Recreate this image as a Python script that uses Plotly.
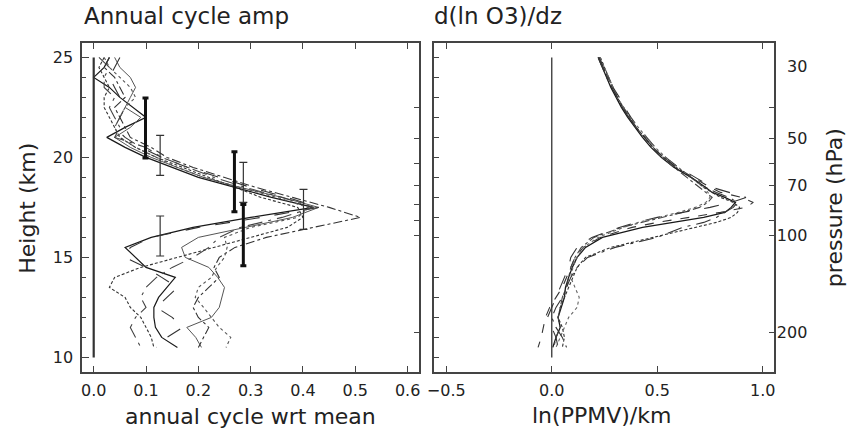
import plotly.graph_objects as go

# ---------------- data ----------------
heights_L = [25.0, 24.5, 24.0, 23.5, 23.0, 22.5, 22.0, 21.5, 21.0, 20.5, 20.0, 19.5, 19.0, 18.5, 18.0,
             17.5, 17.0, 16.5, 16.0, 15.5, 15.0, 14.5, 14.0, 13.5, 13.0, 12.5, 12.0, 11.5, 11.0, 10.5]

amp_solid = [0.03, 0.02, 0.00, 0.03, 0.05, 0.075, 0.10, 0.06, 0.025, 0.06, 0.10, 0.15, 0.20, 0.27, 0.34,
             0.42, 0.30, 0.19, 0.11, 0.06, 0.08, 0.10, 0.156, 0.14, 0.124, 0.115, 0.115, 0.118, 0.13, 0.16]
amp_solid2 = [0.04, 0.05, 0.07, 0.08, 0.07, 0.06, 0.09, 0.07, 0.04, 0.07, 0.11, 0.16, 0.21, 0.28, 0.36,
              0.43, 0.38, 0.29, 0.20, 0.168, 0.175, 0.22, 0.237, 0.25, 0.245, 0.24, 0.225, 0.178, 0.195, 0.206]
amp_dash = [0.02, 0.01, 0.02, 0.03, 0.02, 0.02, 0.03, 0.04, 0.05, 0.08, 0.12, 0.17, 0.22, 0.27, 0.32,
            0.39, 0.40, 0.37, 0.30, 0.23, 0.16, 0.09, 0.04, 0.03, 0.06, 0.07, 0.09, 0.10, 0.11, 0.115]
amp_dashdot = [0.03, 0.02, 0.04, 0.05, 0.06, 0.04, 0.05, 0.06, 0.07, 0.11, 0.14, 0.19, 0.25, 0.31, 0.38,
               0.45, 0.51, 0.42, 0.33, 0.27, 0.24, 0.23, 0.24, 0.22, 0.20, 0.19, 0.20, 0.22, 0.21, 0.20]
amp_longdash = [0.05, 0.04, 0.03, 0.04, 0.05, 0.06, 0.05, 0.04, 0.06, 0.09, 0.13, 0.18, 0.24, 0.30, 0.37,
                0.43, 0.32, 0.20, 0.11, 0.07, 0.06, 0.10, 0.13, 0.16, 0.14, 0.12, 0.15, 0.17, 0.14, 0.12]
amp_dot = [0.02, 0.03, 0.05, 0.07, 0.08, 0.06, 0.05, 0.04, 0.05, 0.08, 0.12, 0.16, 0.21, 0.28, 0.35,
           0.41, 0.39, 0.30, 0.25, 0.255, 0.25, 0.235, 0.225, 0.20, 0.194, 0.21, 0.225, 0.24, 0.262, 0.253]
amp_longdashdot = [0.01, 0.03, 0.02, 0.02, 0.04, 0.03, 0.04, 0.05, 0.04, 0.10, 0.13, 0.18, 0.23, 0.29, 0.36,
                   0.42, 0.36, 0.28, 0.24, 0.22, 0.19, 0.15, 0.12, 0.10, 0.09, 0.10, 0.08, 0.07, 0.08, 0.09]

bold_x = [0.099, 0.269, 0.286]
bold_y = [21.47, 18.78, 16.11]
bold_err = [1.5, 1.5, 1.53]
thin_x = [0.127, 0.286, 0.401, 0.127]
thin_y = [20.1, 18.75, 17.4, 16.07]
thin_err = [1.0, 1.0, 1.0, 1.0]

heights_R = [25.0, 24.5, 24.0, 23.5, 23.0, 22.5, 22.0, 21.5, 21.0, 20.5, 20.0, 19.5, 19.0, 18.5, 18.25,
             18.0, 17.75, 17.5, 17.25, 17.0, 16.75, 16.5, 16.0, 15.5, 15.0, 14.5, 14.0, 13.5, 13.0, 12.5,
             12.0, 11.5, 11.0, 10.5]
grad_solid = [0.22, 0.24, 0.26, 0.28, 0.305, 0.33, 0.36, 0.395, 0.43, 0.47, 0.52, 0.58, 0.66, 0.73, 0.76,
              0.82, 0.87, 0.85, 0.82, 0.72, 0.58, 0.43, 0.24, 0.16, 0.12, 0.097, 0.08, 0.065, 0.06, 0.045,
              0.03, 0.04, 0.02, 0.005]
grad_dash = [0.225, 0.245, 0.265, 0.29, 0.31, 0.335, 0.365, 0.40, 0.44, 0.48, 0.53, 0.59, 0.67, 0.75, 0.80,
             0.90, 0.955, 0.92, 0.80, 0.64, 0.50, 0.38, 0.23, 0.15, 0.11, 0.09, 0.07, 0.05, 0.02, -0.01,
             -0.03, -0.04, -0.05, -0.065]
grad_dot = [0.23, 0.25, 0.27, 0.29, 0.31, 0.34, 0.37, 0.40, 0.44, 0.48, 0.53, 0.59, 0.66, 0.72, 0.76,
            0.80, 0.86, 0.89, 0.88, 0.85, 0.78, 0.68, 0.48, 0.28, 0.16, 0.12, 0.10, 0.08, 0.06, 0.04,
            0.03, 0.05, 0.06, 0.05]
grad_dashdot = [0.22, 0.24, 0.27, 0.29, 0.31, 0.34, 0.37, 0.40, 0.44, 0.48, 0.52, 0.58, 0.64, 0.70, 0.73,
                0.76, 0.74, 0.70, 0.62, 0.52, 0.42, 0.33, 0.20, 0.14, 0.11, 0.09, 0.08, 0.07, 0.05, 0.04,
                0.03, 0.04, 0.02, 0.01]
grad_longdash = [0.225, 0.245, 0.27, 0.29, 0.32, 0.345, 0.375, 0.41, 0.45, 0.49, 0.54, 0.60, 0.68, 0.76, 0.84,
                 0.92, 0.85, 0.75, 0.62, 0.50, 0.40, 0.32, 0.19, 0.12, 0.09, 0.08, 0.06, 0.04, 0.02, 0.0,
                 -0.02, 0.0, 0.02, 0.03]
grad_dotgray = [0.23, 0.25, 0.27, 0.29, 0.31, 0.34, 0.37, 0.41, 0.45, 0.49, 0.54, 0.60, 0.66, 0.72, 0.74,
                0.75, 0.73, 0.68, 0.60, 0.50, 0.41, 0.34, 0.22, 0.15, 0.12, 0.10, 0.09, 0.11, 0.13, 0.12,
                0.08, 0.06, 0.04, 0.02]
grad_longdashdot = [0.22, 0.24, 0.26, 0.285, 0.31, 0.335, 0.365, 0.40, 0.44, 0.48, 0.53, 0.59, 0.66, 0.73, 0.78,
                    0.84, 0.88, 0.86, 0.82, 0.78, 0.72, 0.62, 0.50, 0.30, 0.17, 0.12, 0.09, 0.07, 0.05, 0.02,
                    0.00, 0.02, 0.05, 0.07]

zero_line_x = [0.0, 0.0]
zero_line_y = [10.0, 25.0]

height_major = [10, 15, 20, 25]
height_minor = list(range(10, 26))
pressure_ticks = [40, 50, 60, 70, 80, 90, 100, 200]
pressure_labels = [30, 50, 70, 100, 200]
amp_ticks = [0.0, 0.1, 0.2, 0.3, 0.4, 0.5, 0.6]
grad_ticks = [-0.5, 0.0, 0.5, 1.0]

# ---------------- style ----------------
W, H = 850, 432
FONT = "DejaVu Sans"
TXT = "#222222"
AX = "#444444"
L_frame = (76, 416)
R_frame = (432, 775)
Y_frame = (43, 372)


def px_x(p):
    return p / W


def px_y(p):
    return 1 - p / H


ydom = [px_y(Y_frame[1]), px_y(Y_frame[0])]
h_range = [9.27, 25.72]
p_range = [2.4233, 1.4031]  # log10(hPa), reversed

fig = go.Figure()

left_styles = [
    (amp_solid, "solid", "#1a1a1a", 1.2),
    (amp_solid2, "solid", "#555555", 1.0),
    (amp_dash, "3px,2px", "#333333", 1.1),
    (amp_dashdot, "dashdot", "#333333", 1.1),
    (amp_longdash, "longdash", "#333333", 1.1),
    (amp_dot, "dot", "#555555", 1.1),
    (amp_longdashdot, "longdashdot", "#444444", 1.1),
]
for vals, dash, col, w in left_styles:
    fig.add_trace(go.Scatter(x=vals, y=heights_L, mode="lines", xaxis="x", yaxis="y",
                             line=dict(color=col, width=w, dash=dash), hoverinfo="skip"))

fig.add_trace(go.Scatter(x=zero_line_x, y=zero_line_y, mode="lines", xaxis="x", yaxis="y",
                         line=dict(color="#333333", width=2.2), hoverinfo="skip"))

fig.add_trace(go.Scatter(x=bold_x, y=bold_y, mode="markers", xaxis="x", yaxis="y",
                         marker=dict(size=1, color="rgba(0,0,0,0)"),
                         error_y=dict(type="data", array=bold_err, color="#111111", thickness=3, width=3),
                         hoverinfo="skip"))
fig.add_trace(go.Scatter(x=thin_x, y=thin_y, mode="markers", xaxis="x", yaxis="y",
                         marker=dict(size=1, color="rgba(0,0,0,0)"),
                         error_y=dict(type="data", array=thin_err, color="#333333", thickness=1.2, width=4),
                         hoverinfo="skip"))

right_styles = [
    (grad_solid, "solid", "#1a1a1a", 1.3),
    (grad_dash, "dash", "#333333", 1.1),
    (grad_dot, "3px,2px", "#333333", 1.1),
    (grad_dashdot, "dashdot", "#444444", 1.1),
    (grad_longdash, "longdash", "#333333", 1.1),
    (grad_dotgray, "dot", "#666666", 1.1),
    (grad_longdashdot, "longdashdot", "#333333", 1.1),
]
for vals, dash, col, w in right_styles:
    fig.add_trace(go.Scatter(x=vals, y=heights_R, mode="lines", xaxis="x2", yaxis="y2",
                             line=dict(color=col, width=w, dash=dash), hoverinfo="skip"))

fig.add_trace(go.Scatter(x=zero_line_x, y=zero_line_y, mode="lines", xaxis="x2", yaxis="y2",
                         line=dict(color="#333333", width=1.3), hoverinfo="skip"))

# empty traces to make overlay pressure axes exist
for ya, xa in (("y3", "x"), ("y4", "x2"), ("y5", "x2")):
    fig.add_trace(go.Scatter(x=[], y=[], xaxis=xa, yaxis=ya, mode="markers", hoverinfo="skip"))

tickfont = dict(family=FONT, size=16, color=TXT)
common_x = dict(showline=True, linecolor=AX, linewidth=1.6, mirror="ticks", ticks="inside",
                tickcolor=AX, ticklen=6, tickwidth=1.2, showgrid=False, zeroline=False,
                tickfont=tickfont, ticklabelstandoff=3)

figspace = "\u2007"
fig.update_layout(
    width=W, height=H, margin=dict(l=0, r=0, t=0, b=0),
    paper_bgcolor="white", plot_bgcolor="white", showlegend=False,
    xaxis=dict(domain=[px_x(L_frame[0]), px_x(L_frame[1])], anchor="y", range=[-0.022, 0.621],
               tickvals=amp_ticks, tickformat=".1f", **common_x),
    yaxis=dict(domain=ydom, anchor="x", range=h_range, tickvals=height_major,
               ticks="inside", ticklen=7, tickwidth=1.3, tickcolor=AX,
               minor=dict(tickvals=height_minor, ticks="inside", ticklen=4, tickcolor=AX, tickwidth=1.2),
               showline=True, linecolor=AX, linewidth=1.6, mirror=False,
               showgrid=False, zeroline=False, tickfont=tickfont, ticklabelstandoff=4),
    yaxis3=dict(overlaying="y", anchor="x", side="right", type="log", range=p_range,
                tickvals=pressure_ticks, showticklabels=False, ticks="inside", ticklen=5,
                tickcolor=AX, tickwidth=1.3, showline=True, linecolor=AX, linewidth=1.6,
                showgrid=False, zeroline=False),
    xaxis2=dict(domain=[px_x(R_frame[0]), px_x(R_frame[1])], anchor="y2", range=[-0.556, 1.052],
                tickvals=grad_ticks, tickformat=".1f", **common_x),
    yaxis2=dict(domain=ydom, anchor="x2", range=h_range, tickvals=height_minor,
                showticklabels=False, ticks="inside", ticklen=5, tickwidth=1.3, tickcolor=AX,
                showline=True, linecolor=AX, linewidth=1.6, mirror=False,
                showgrid=False, zeroline=False),
    yaxis4=dict(overlaying="y2", anchor="x2", side="right", type="log", range=p_range,
                tickvals=pressure_ticks, showticklabels=False, ticks="inside", ticklen=5,
                tickcolor=AX, tickwidth=1.3, showline=True, linecolor=AX, linewidth=1.6,
                showgrid=False, zeroline=False),
    yaxis5=dict(overlaying="y2", anchor="x2", side="right", type="log", range=p_range,
                tickvals=pressure_labels,
                ticktext=[str(v).rjust(3, figspace) for v in pressure_labels],
                ticks="", showline=False, showgrid=False, zeroline=False,
                tickfont=tickfont, ticklabelstandoff=2),
)

title_font = dict(family=FONT, size=23, color=TXT)
axis_font = dict(family=FONT, size=22, color=TXT)
fig.add_annotation(text="Annual cycle amp", x=px_x(76), y=px_y(16), xref="paper", yref="paper",
                   xanchor="left", yanchor="middle", showarrow=False, font=title_font)
fig.add_annotation(text="d(ln O3)/dz", x=px_x(430), y=px_y(16), xref="paper", yref="paper",
                   xanchor="left", yanchor="middle", showarrow=False, font=title_font)
fig.add_annotation(text="Height (km)", x=px_x(21), y=px_y(208), xref="paper", yref="paper",
                   xanchor="center", yanchor="middle", textangle=-90, showarrow=False, font=axis_font)
fig.add_annotation(text="annual cycle wrt mean", x=px_x(246), y=px_y(416), xref="paper", yref="paper",
                   xanchor="center", yanchor="middle", showarrow=False, font=axis_font)
fig.add_annotation(text="ln(PPMV)/km", x=px_x(601), y=px_y(415), xref="paper", yref="paper",
                   xanchor="center", yanchor="middle", showarrow=False, font=axis_font)
fig.add_annotation(text="pressure (hPa)", x=px_x(837), y=px_y(208), xref="paper", yref="paper",
                   xanchor="center", yanchor="middle", textangle=-90, showarrow=False, font=axis_font)

fig.write_html("out.html")
